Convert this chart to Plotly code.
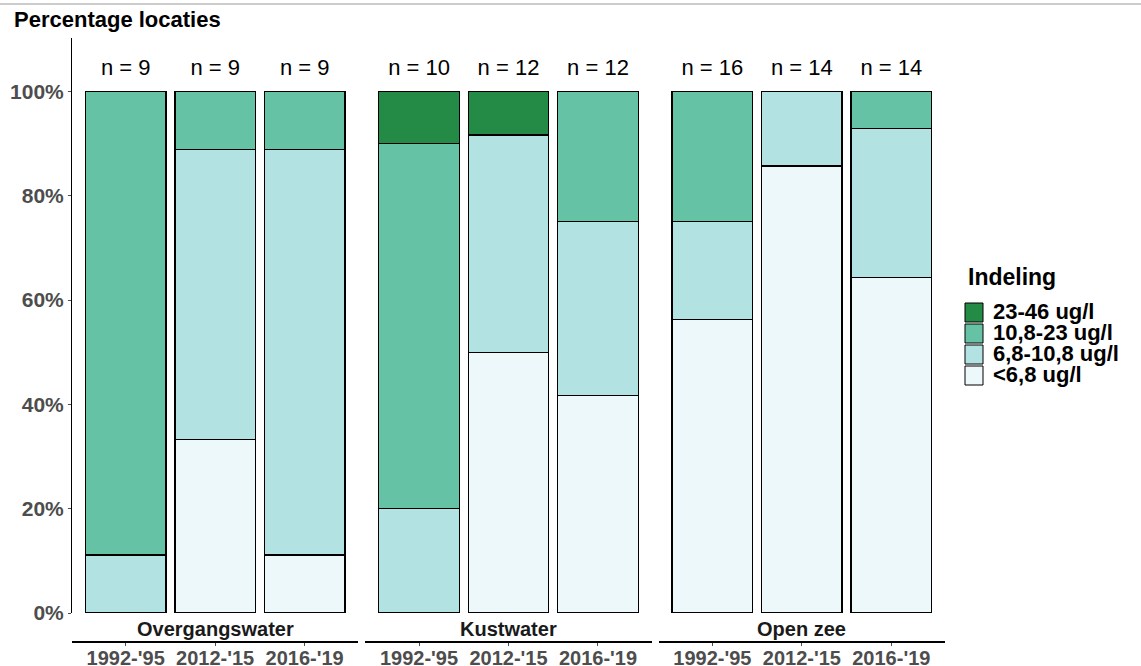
import plotly.graph_objects as go

# categories
waters = ["Overgangswater", "Kustwater", "Open zee"]
periods = ["1992-'95", "2012-'15", "2016-'19"]
classes = ["<6,8 ug/l", "6,8-10,8 ug/l", "10,8-23 ug/l", "23-46 ug/l"]

# number of locations per water type and period
n_locaties = [
    [9, 9, 9],
    [10, 12, 12],
    [16, 14, 14],
]

# number of locations per class (rows: water type, cols: period)
count_lt_6_8 = [[0, 3, 1], [0, 6, 5], [9, 12, 9]]
count_6_8_10_8 = [[1, 5, 7], [2, 5, 4], [3, 2, 4]]
count_10_8_23 = [[8, 1, 1], [7, 0, 3], [4, 0, 1]]
count_23_46 = [[0, 0, 0], [1, 1, 0], [0, 0, 0]]

y_ticks = [0, 20, 40, 60, 80, 100]

class_counts = [count_lt_6_8, count_6_8_10_8, count_10_8_23, count_23_46]
class_colors = ["#edf8fb", "#b2e2e2", "#66c2a4", "#238b45"]

FONT = "Liberation Sans"
GREY = "#4d4d4d"

W, H = 1141, 666
L, R, T, B = 72, 196, 38, 24
plot_w = W - L - R
plot_h = H - T - B
gap = 7
panel_w = (plot_w - 2 * gap) / 3
y_bottom = 29 / plot_h  # room for the strip labels under the panels


def px_x(px):
    return (px - L) / plot_w


def px_y(py):
    return 1 - (py - T) / plot_h


fig = go.Figure()

for i, water in enumerate(waters):
    xa = "x" if i == 0 else f"x{i + 1}"
    for c, cls in enumerate(classes):
        counts = class_counts[c][i]
        pct = [cnt / n * 100 if cnt > 0 else None
               for cnt, n in zip(counts, n_locaties[i])]
        fig.add_trace(go.Bar(
            x=periods, y=pct, name=cls,
            xaxis=xa, yaxis="y",
            marker=dict(color=class_colors[c], line=dict(color="black", width=1.2)),
            width=0.9, showlegend=False,
            hovertemplate=f"{water} %{{x}}<br>{cls}: %{{y:.1f}}%<extra></extra>",
        ))
    fig.add_trace(go.Scatter(
        x=periods, y=[104.3] * 3, mode="text",
        text=[f"n = {n}" for n in n_locaties[i]],
        textfont=dict(family=FONT, size=22, color="black"),
        xaxis=xa, yaxis="y", showlegend=False, hoverinfo="skip",
    ))
    start = i * (panel_w + gap) / plot_w
    end = start + panel_w / plot_w
    key = "xaxis" if i == 0 else f"xaxis{i + 1}"
    fig.update_layout({key: dict(
        domain=[start, min(end, 1)], anchor="free", position=0,
        type="category", categoryorder="array", categoryarray=periods,
        range=[-0.6, 2.6], showgrid=False, zeroline=False, automargin=False,
        showline=True, linecolor="black", linewidth=1.5,
        ticks="outside", ticklen=3, tickcolor=GREY, tickwidth=1,
        ticklabelstandoff=-5,
        tickfont=dict(family=FONT, size=20, color=GREY, weight="bold"),
    )})
    fig.add_annotation(
        text=water, xref=f"{xa} domain", yref="paper",
        x=0.5, y=px_y(629), yanchor="middle", showarrow=False,
        font=dict(family=FONT, size=20, color="#1a1a1a", weight="bold"),
    )

# legend drawn by hand so keys sit tight like the original
fig.add_annotation(
    text="Indeling", xref="paper", yref="paper",
    x=px_x(966), y=px_y(277), xanchor="left", yanchor="middle", showarrow=False,
    font=dict(family=FONT, size=23, color="black", weight="bold"),
)
shapes = []
key_top = 302
key_h = 21
for k, c in enumerate(reversed(range(len(classes)))):
    top = key_top + k * key_h
    shapes.append(dict(
        type="rect", xref="paper", yref="paper",
        x0=px_x(965), x1=px_x(983), y0=px_y(top + 1), y1=px_y(top + key_h - 1),
        fillcolor=class_colors[c], line=dict(color="black", width=1),
    ))
    fig.add_annotation(
        text=classes[c], xref="paper", yref="paper",
        x=px_x(991), y=px_y(top + key_h / 2 - 1), xanchor="left", yanchor="middle",
        showarrow=False,
        font=dict(family=FONT, size=22, color="black", weight="bold"),
    )

# thin grey line across the very top
shapes.append(dict(
    type="line", xref="paper", yref="paper",
    x0=px_x(0), x1=px_x(W), y0=px_y(4), y1=px_y(4),
    line=dict(color="#cccccc", width=2),
))

fig.add_annotation(
    text="Percentage locaties", xref="paper", yref="paper",
    x=px_x(12), y=px_y(19), xanchor="left", yanchor="middle", showarrow=False,
    font=dict(family=FONT, size=22, color="black", weight="bold"),
)

fig.update_layout(
    width=W, height=H,
    margin=dict(l=L, r=R, t=T, b=B),
    barmode="stack",
    plot_bgcolor="white", paper_bgcolor="white",
    showlegend=False,
    yaxis=dict(
        domain=[y_bottom, 1], range=[0, 110.25], automargin=False,
        tickvals=y_ticks, ticktext=[f"{v}%" for v in y_ticks],
        showgrid=False, zeroline=False,
        showline=True, linecolor="black", linewidth=1,
        ticks="outside", ticklen=3, tickcolor=GREY,
        tickfont=dict(family=FONT, size=21, color=GREY, weight="bold"),
    ),
    shapes=shapes,
)

# drop the default page margin so the figure sits at the window's corner
fig.write_html(
    "out.html",
    config={"displayModeBar": False},
    post_script="document.body.style.margin = '0';",
)
